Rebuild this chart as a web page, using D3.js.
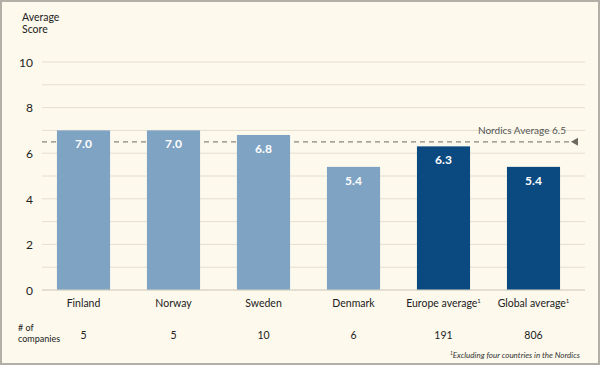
<!DOCTYPE html>
<html><head><meta charset="utf-8">
<script src="https://cdn.jsdelivr.net/npm/d3@7/dist/d3.min.js"></script>
<style>
html,body{margin:0;padding:0;background:#fff;}
svg{display:block;}
text{font-family:Lato,"Open Sans",sans-serif;}
</style></head><body>
<svg id="chart" width="600" height="365"></svg>
<script>
const categories = ["Finland","Norway","Sweden","Denmark","Europe average","Global average"];
const superscripts = ["","","","","1","1"];
const scores = [7.0, 7.0, 6.8, 5.4, 6.3, 5.4];
const groups = ["nordic","nordic","nordic","nordic","other","other"];
const companies = ["5","5","10","6","191","806"];
const yTicks = [0,2,4,6,8,10];
const nordicsAverage = 6.5;

const W = 600, H = 365;
const svg = d3.select("#chart");
svg.append("rect").attr("x",1).attr("y",1).attr("width",W-2).attr("height",H-2)
  .attr("fill","#fdf9ec").attr("stroke","#b3afa6").attr("stroke-width",2);

const x = d3.scaleBand().domain(categories).range([38.5,578.5]).paddingInner(0.41).paddingOuter(0.205);
const y = d3.scaleLinear().domain([0,10]).range([290,62]);

// minor gridlines every 1
const g = svg.append("g");
g.selectAll("line.grid").data(d3.range(0,11)).join("line")
  .attr("x1",42).attr("x2",585)
  .attr("y1",d=>y(d)).attr("y2",d=>y(d))
  .attr("stroke","#e4ded0").attr("stroke-width",1);

// y axis labels
const yAxis = d3.axisLeft(y).tickValues(yTicks).tickSize(0).tickPadding(0);
const ya = svg.append("g").attr("transform","translate(33,0)").call(yAxis);
ya.select(".domain").remove();
ya.selectAll("text").attr("font-size",12).attr("fill","#222").attr("dy","0.35em");

svg.append("text").attr("x",22).attr("y",21).attr("font-size",10.5).attr("fill","#222").text("Average");
svg.append("text").attr("x",22).attr("y",33).attr("font-size",10.5).attr("fill","#222").text("Score");

// dashed average line
svg.append("line").attr("x1",42).attr("x2",572)
  .attr("y1",y(nordicsAverage)).attr("y2",y(nordicsAverage))
  .attr("stroke","#8a857c").attr("stroke-width",1.2).attr("stroke-dasharray","5,4");
svg.append("path")
  .attr("d",`M571,${y(nordicsAverage)} L578,${y(nordicsAverage)-4} L578,${y(nordicsAverage)+4} Z`)
  .attr("fill","#6d6860");
svg.append("text").attr("x",566).attr("y",y(nordicsAverage)-8).attr("text-anchor","end")
  .attr("font-size",10).attr("fill","#555").text("Nordics Average " + nordicsAverage);

// bars
const colors = {nordic:"#7fa3c3", other:"#0b4a80"};
svg.selectAll("rect.bar").data(categories).join("rect")
  .attr("x",d=>x(d)).attr("width",x.bandwidth())
  .attr("y",(d,i)=>y(scores[i])).attr("height",(d,i)=>y(0)-y(scores[i]))
  .attr("fill",(d,i)=>colors[groups[i]]);

svg.selectAll("text.val").data(categories).join("text")
  .attr("x",d=>x(d)+x.bandwidth()/2).attr("y",(d,i)=>y(scores[i])+18)
  .attr("text-anchor","middle").attr("font-size",12).attr("font-weight","bold")
  .attr("fill","#fff").text((d,i)=>scores[i].toFixed(1));

// baseline
svg.append("line").attr("x1",42).attr("x2",585).attr("y1",y(0)).attr("y2",y(0))
  .attr("stroke","#d8d2c4").attr("stroke-width",1);

// category labels
const cl = svg.selectAll("text.cat").data(categories).join("text")
  .attr("x",d=>x(d)+x.bandwidth()/2).attr("y",307)
  .attr("text-anchor","middle").attr("font-size",10.5).attr("fill","#222");
cl.append("tspan").text(d=>d);
cl.append("tspan").attr("font-size",6).attr("dy",-4).text((d,i)=>superscripts[i]);

// companies
svg.append("text").attr("x",18).attr("y",331).attr("font-size",9).attr("fill","#222").text("# of");
svg.append("text").attr("x",18).attr("y",342).attr("font-size",9).attr("fill","#222").text("companies");
svg.selectAll("text.comp").data(categories).join("text")
  .attr("x",d=>x(d)+x.bandwidth()/2).attr("y",339)
  .attr("text-anchor","middle").attr("font-size",10.5).attr("fill","#222")
  .text((d,i)=>companies[i]);

// footnote
const fn = svg.append("text").attr("x",580).attr("y",358).attr("text-anchor","end")
  .attr("font-size",8).attr("font-style","italic").attr("fill","#333");
fn.append("tspan").attr("font-size",5).attr("dy",-3).text("1");
fn.append("tspan").attr("dy",3).text("Excluding four countries in the Nordics");
</script>
</body></html>
